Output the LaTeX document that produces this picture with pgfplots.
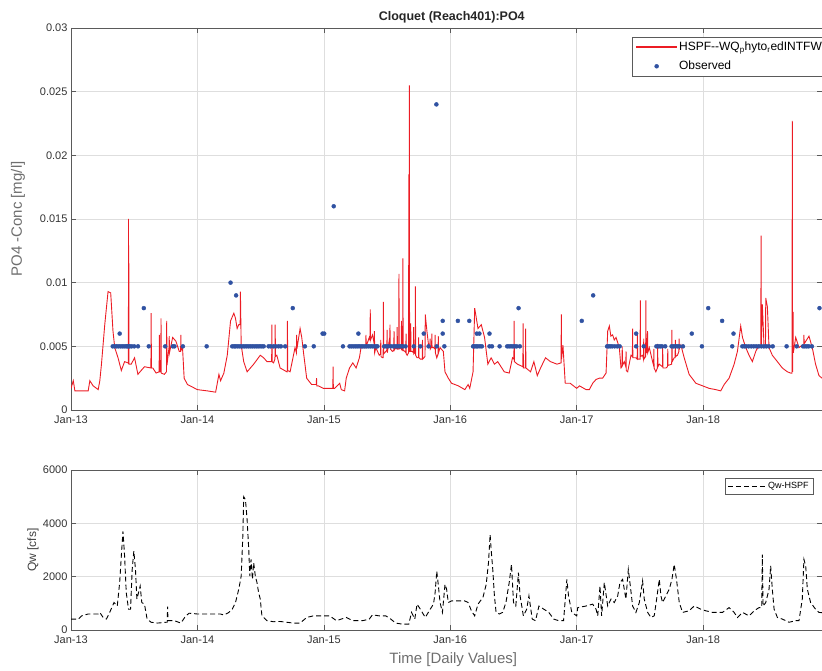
\documentclass[border=0pt]{standalone}
\usepackage{fontspec}
\setmainfont{Liberation Sans}
\usepackage{pgfplots}
\pgfplotsset{compat=1.18}

\definecolor{simred}{RGB}{236,28,36}
\definecolor{obsblue}{RGB}{48,82,162}
\definecolor{gridgray}{RGB}{222,222,222}
\definecolor{framegray}{RGB}{90,90,90}
\definecolor{labgray}{RGB}{110,110,110}

\pgfplotsset{
  /pgf/number format/assume math mode=true,
  /pgf/number format/1000 sep={},
  matlab/.style={
    scale only axis,
    width=751pt,
    xmin=0, xmax=5.94,
    xtick={0,1,2,3,4,5},
    xticklabels={Jan-13,Jan-14,Jan-15,Jan-16,Jan-17,Jan-18},
    scaled y ticks=false,
    grid=major,
    major grid style={gridgray, line width=0.6pt},
    axis line style={framegray, line width=0.7pt},
    tick style={framegray, line width=0.7pt},
    tick align=inside,
    major tick length=5pt,
    tick label style={font=\fontsize{11}{13}\selectfont, text=black!80},
    xticklabel style={yshift=-2pt},
    legend cell align=left,
  },
}

\begin{document}
\begin{tikzpicture}

\begin{axis}[matlab,
  at={(71pt,-410pt)}, anchor=south west,
  height=382pt,
  ymin=0, ymax=0.03,
  ytick={0,0.005,0.01,0.015,0.02,0.025,0.03},
  yticklabels={0,0.005,0.01,0.015,0.02,0.025,0.03},
  title={Cloquet (Reach401):PO4},
  title style={at={(0.507,1.031)}, anchor=center, yshift=-7pt, font=\bfseries\fontsize{12.5}{14}\selectfont, text=black!85},
  ylabel={PO4 -Conc [mg/l]},
  ylabel style={at={(-0.0706,0.5)}, anchor=center, font=\fontsize{15}{17}\selectfont, text=labgray},
  legend style={at={(0.747,0.977)}, anchor=north west, draw=framegray, fill=white,
    font=\fontsize{12}{14}\selectfont, row sep=5pt, inner xsep=4pt, inner ysep=3pt},
]
\addplot[color=simred, line width=0.9pt,
  legend image code/.code={\fill[fill=simred] (0pt,-0.5pt) rectangle (40pt,0.5pt);}]
coordinates {
(0,0.0017)(0.018,0.0023)(0.031,0.0015)(0.084,0.0015)(0.136,0.0015)(0.149,0.0023)(0.175,0.0019)(0.215,0.0016)(0.228,0.0023)(0.241,0.0036)(0.267,0.0067)(0.293,0.0093)(0.314,0.0092)(0.332,0.0062)(0.346,0.0049)(0.372,0.0041)(0.398,0.0031)(0.424,0.0038)(0.450,0.0037)(0.454,0.0037)(0.455,0.0150)(0.456,0.0036)(0.457,0.0122)(0.459,0.0036)(0.476,0.0036)(0.503,0.0041)(0.529,0.0028)(0.581,0.0034)(0.632,0.0033)(0.634,0.0076)(0.636,0.0033)(0.647,0.0033)(0.673,0.0029)(0.697,0.0030)(0.699,0.0059)(0.701,0.0030)(0.710,0.0030)(0.712,0.0072)(0.714,0.0029)(0.738,0.0028)(0.755,0.0030)(0.757,0.0070)(0.759,0.0035)(0.775,0.0049)(0.777,0.0058)(0.779,0.0045)(0.804,0.0057)(0.830,0.0054)(0.856,0.0046)(0.867,0.0046)(0.869,0.0059)(0.871,0.0047)(0.882,0.0049)(0.895,0.0025)(0.921,0.0020)(1.0,0.0016)
(1.079,0.0015)(1.144,0.0014)(1.170,0.0028)(1.183,0.0023)(1.209,0.0029)(1.236,0.0043)(1.262,0.0070)(1.288,0.0076)(1.301,0.0072)(1.314,0.0064)(1.327,0.0067)(1.338,0.0067)(1.340,0.0093)(1.346,0.0051)(1.366,0.0038)(1.393,0.0030)(1.445,0.0036)(1.497,0.0043)(1.524,0.0041)(1.550,0.0038)(1.587,0.0038)(1.589,0.0067)(1.591,0.0038)(1.602,0.0037)(1.613,0.0040)(1.615,0.0067)(1.617,0.0042)(1.628,0.0043)(1.654,0.0033)(1.707,0.0030)(1.710,0.0030)(1.712,0.0070)(1.714,0.0031)(1.733,0.0030)(1.772,0.0049)(1.783,0.0045)(1.785,0.0059)(1.787,0.0048)(1.812,0.0064)(1.825,0.0057)(1.838,0.0046)(1.864,0.0025)(1.903,0.0020)(1.940,0.0020)(1.942,0.0025)(1.944,0.0019)(1.955,0.0019)(1.995,0.0017)
(2.047,0.0017)(2.071,0.0017)(2.073,0.0034)(2.075,0.0017)(2.086,0.0017)(2.125,0.0021)(2.138,0.0016)(2.164,0.0015)(2.177,0.0025)(2.203,0.0033)(2.229,0.0037)(2.255,0.0033)(2.281,0.0041)(2.294,0.0049)(2.320,0.0049)(2.331,0.0049)(2.333,0.0059)(2.335,0.0050)(2.359,0.0057)(2.365,0.0055)(2.367,0.0079)(2.369,0.0055)(2.385,0.0059)(2.398,0.0052)(2.400,0.0062)(2.402,0.0045)(2.411,0.0049)(2.438,0.0043)(2.448,0.0044)(2.450,0.0055)(2.452,0.0042)(2.464,0.0041)(2.469,0.0041)(2.471,0.0085)(2.473,0.0044)(2.490,0.0046)(2.498,0.0047)(2.500,0.0063)(2.502,0.0045)(2.516,0.0054)(2.521,0.0050)(2.523,0.0067)(2.525,0.0048)(2.542,0.0046)(2.553,0.0047)(2.555,0.0062)(2.557,0.0047)(2.568,0.0049)(2.578,0.0048)(2.580,0.0065)(2.582,0.0048)(2.592,0.0048)(2.594,0.0107)(2.596,0.0048)(2.607,0.0049)(2.612,0.0048)(2.614,0.0070)(2.616,0.0048)(2.623,0.0047)(2.625,0.0119)(2.627,0.0047)(2.641,0.0046)(2.648,0.0045)(2.650,0.0060)(2.652,0.0044)(2.659,0.0043)(2.670,0.0045)(2.672,0.0185)(2.674,0.0046)(2.676,0.0255)(2.678,0.0046)(2.685,0.0046)(2.687,0.0068)(2.689,0.0046)(2.698,0.0046)(2.708,0.0045)(2.710,0.0065)(2.712,0.0044)(2.722,0.0045)(2.724,0.0097)(2.726,0.0043)(2.737,0.0041)(2.748,0.0041)(2.750,0.0057)(2.752,0.0041)(2.763,0.0040)(2.778,0.0040)(2.780,0.0055)(2.782,0.0040)(2.800,0.0042)(2.802,0.0075)(2.815,0.0062)(2.828,0.0051)(2.838,0.0049)(2.840,0.0056)(2.842,0.0048)(2.852,0.0050)(2.854,0.0060)(2.856,0.0049)(2.867,0.0049)(2.878,0.0048)(2.880,0.0059)(2.882,0.0045)(2.893,0.0041)(2.903,0.0044)(2.905,0.0058)(2.907,0.0045)(2.919,0.0049)(2.945,0.0046)(2.958,0.0030)(2.984,0.0025)
(3.010,0.0021)(3.063,0.0019)(3.115,0.0016)(3.141,0.0020)(3.154,0.0017)(3.180,0.0030)(3.193,0.0080)(3.219,0.0064)(3.245,0.0067)(3.271,0.0057)(3.297,0.0036)(3.323,0.0041)(3.349,0.0036)(3.375,0.0038)(3.401,0.0034)(3.427,0.0030)(3.466,0.0029)(3.492,0.0041)(3.503,0.0040)(3.505,0.0070)(3.507,0.0038)(3.531,0.0036)(3.574,0.0034)(3.576,0.0068)(3.578,0.0033)(3.583,0.0033)(3.594,0.0033)(3.596,0.0064)(3.598,0.0033)(3.635,0.0030)(3.661,0.0038)(3.688,0.0027)(3.714,0.0033)(3.753,0.0041)(3.792,0.0038)(3.844,0.0036)(3.876,0.0037)(3.878,0.0075)(3.880,0.0040)(3.891,0.0051)(3.909,0.0021)(3.948,0.0021)(4.0,0.0017)
(4.021,0.0019)(4.074,0.0016)(4.100,0.0016)(4.126,0.0021)(4.153,0.0024)(4.179,0.0025)(4.205,0.0025)(4.232,0.0029)(4.245,0.0062)(4.258,0.0066)(4.270,0.0058)(4.284,0.0059)(4.297,0.0055)(4.311,0.0057)(4.337,0.0049)(4.350,0.0033)(4.358,0.0034)(4.360,0.0050)(4.362,0.0035)(4.376,0.0038)(4.388,0.0034)(4.390,0.0046)(4.392,0.0031)(4.403,0.0030)(4.429,0.0043)(4.440,0.0042)(4.442,0.0064)(4.444,0.0041)(4.468,0.0041)(4.478,0.0040)(4.480,0.0060)(4.482,0.0040)(4.501,0.0040)(4.503,0.0086)(4.505,0.0042)(4.521,0.0043)(4.528,0.0040)(4.530,0.0056)(4.532,0.0040)(4.545,0.0042)(4.547,0.0086)(4.549,0.0045)(4.558,0.0045)(4.560,0.0062)(4.562,0.0045)(4.574,0.0049)(4.600,0.0038)(4.608,0.0035)(4.610,0.0048)(4.612,0.0033)(4.626,0.0030)(4.638,0.0033)(4.640,0.0052)(4.642,0.0034)(4.653,0.0036)(4.678,0.0034)(4.680,0.0050)(4.682,0.0033)(4.705,0.0033)(4.718,0.0034)(4.720,0.0048)(4.722,0.0035)(4.751,0.0036)(4.753,0.0063)(4.755,0.0038)(4.771,0.0041)(4.778,0.0041)(4.780,0.0055)(4.782,0.0042)(4.797,0.0043)(4.808,0.0046)(4.810,0.0056)(4.812,0.0048)(4.824,0.0051)(4.850,0.0041)(4.889,0.0028)(4.942,0.0021)(4.995,0.0019)
(5.047,0.0017)(5.100,0.0016)(5.139,0.0015)(5.166,0.0020)(5.205,0.0025)(5.245,0.0036)(5.271,0.0046)(5.297,0.0066)(5.311,0.0057)(5.337,0.0049)(5.363,0.0043)(5.389,0.0038)(5.416,0.0046)(5.442,0.0051)(5.456,0.0050)(5.458,0.0137)(5.460,0.0050)(5.468,0.0083)(5.482,0.0049)(5.493,0.0049)(5.495,0.0088)(5.508,0.0081)(5.521,0.0049)(5.547,0.0043)(5.587,0.0038)(5.626,0.0033)(5.666,0.0030)(5.692,0.0029)(5.703,0.0029)(5.705,0.0227)(5.707,0.0030)(5.711,0.0077)(5.713,0.0045)(5.732,0.0057)(5.758,0.0049)(5.784,0.0051)(5.795,0.0050)(5.797,0.0059)(5.799,0.0052)(5.837,0.0058)(5.863,0.0049)(5.889,0.0036)(5.916,0.0027)(5.94,0.0025)
};
\addlegendentry{HSPF-{}-WQ\textsubscript{p}hyto\textsubscript{r}edINTFW}

\addplot[only marks, mark=*, mark size=2pt, color=obsblue,
  legend image code/.code={\fill[fill=obsblue] (20pt,0pt) circle (2pt);}]
coordinates {
(0.330,0.005)(0.345,0.005)(0.360,0.005)(0.375,0.005)(0.385,0.006)(0.390,0.005)(0.405,0.005)(0.420,0.005)(0.435,0.005)(0.445,0.005)(0.455,0.005)(0.465,0.005)(0.480,0.005)(0.500,0.005)(0.530,0.005)(0.576,0.008)(0.615,0.005)(0.745,0.005)(0.805,0.005)(0.818,0.005)(0.885,0.005)
(1.073,0.005)(1.262,0.010)(1.306,0.009)(1.275,0.005)(1.290,0.005)(1.300,0.005)(1.315,0.005)(1.330,0.005)(1.345,0.005)(1.360,0.005)(1.375,0.005)(1.390,0.005)(1.405,0.005)(1.420,0.005)(1.435,0.005)(1.450,0.005)(1.465,0.005)(1.480,0.005)(1.495,0.005)(1.510,0.005)(1.524,0.005)(1.563,0.005)(1.580,0.005)(1.602,0.005)(1.620,0.005)(1.641,0.005)(1.660,0.005)(1.694,0.005)(1.754,0.008)(1.850,0.005)(1.920,0.005)(1.990,0.006)(2.003,0.006)
(2.078,0.016)(2.151,0.005)(2.203,0.005)(2.218,0.005)(2.233,0.005)(2.248,0.005)(2.263,0.005)(2.273,0.006)(2.278,0.005)(2.293,0.005)(2.308,0.005)(2.323,0.005)(2.338,0.005)(2.353,0.005)(2.368,0.005)(2.383,0.005)(2.398,0.005)(2.413,0.005)(2.424,0.005)(2.477,0.005)(2.492,0.005)(2.507,0.005)(2.530,0.005)(2.550,0.005)(2.565,0.005)(2.580,0.005)(2.595,0.005)(2.610,0.005)(2.625,0.005)(2.646,0.005)(2.711,0.005)(2.763,0.005)(2.790,0.006)(2.828,0.005)(2.890,0.024)(2.893,0.005)(2.940,0.006)(2.940,0.007)(2.953,0.005)
(3.060,0.007)(3.150,0.007)(3.180,0.005)(3.192,0.005)(3.210,0.006)(3.205,0.005)(3.218,0.005)(3.230,0.006)(3.235,0.005)(3.250,0.005)(3.310,0.006)(3.310,0.005)(3.330,0.005)(3.390,0.005)(3.450,0.005)(3.465,0.005)(3.480,0.005)(3.495,0.005)(3.510,0.005)(3.525,0.005)(3.540,0.008)(3.550,0.005)
(4.040,0.007)(4.130,0.009)(4.240,0.005)(4.252,0.005)(4.265,0.005)(4.280,0.005)(4.300,0.005)(4.320,0.005)(4.340,0.005)(4.470,0.006)(4.470,0.005)(4.530,0.005)(4.630,0.005)(4.645,0.005)(4.660,0.005)(4.675,0.005)(4.700,0.005)(4.750,0.005)(4.765,0.005)(4.780,0.005)(4.795,0.005)(4.810,0.005)(4.840,0.005)(4.910,0.006)(4.990,0.005)
(5.040,0.008)(5.150,0.007)(5.230,0.005)(5.240,0.006)(5.310,0.005)(5.325,0.005)(5.340,0.005)(5.360,0.005)(5.380,0.005)(5.400,0.005)(5.420,0.005)(5.440,0.005)(5.460,0.005)(5.480,0.005)(5.500,0.005)(5.520,0.005)(5.550,0.005)(5.660,0.005)(5.740,0.005)(5.790,0.005)(5.805,0.005)(5.820,0.005)(5.835,0.005)(5.860,0.005)(5.920,0.008)
};
\addlegendentry{Observed}
\end{axis}

\begin{axis}[matlab,
  at={(71pt,-630pt)}, anchor=south west,
  height=160pt,
  ymin=0, ymax=6000,
  ytick={0,2000,4000,6000},
  yticklabels={0,2000,4000,6000},
  xlabel={Time [Daily Values]},
  xlabel style={at={(0.509,-0.1875)}, anchor=center, font=\fontsize{15}{17}\selectfont, text=labgray},
  ylabel={Qw [cfs]},
  ylabel style={at={(-0.0506,0.5)}, anchor=center, font=\fontsize{12}{14}\selectfont, text=black!75},
  legend style={at={(0.871,0.95)}, anchor=north west, draw=framegray, fill=white,
    font=\fontsize{9}{11}\selectfont, inner sep=2pt},
  legend image code/.code={\draw[#1] (0pt,0pt) -- (38pt,0pt);},
]
\addplot[black, dash pattern=on 5pt off 3pt, line width=0.9pt]
coordinates {
(0,410)(0.058,410)(0.084,530)(0.136,600)(0.215,600)(0.228,660)(0.254,470)(0.280,410)(0.306,660)(0.340,1030)(0.366,900)(0.385,1780)(0.398,2770)(0.411,3700)(0.424,2770)(0.437,1400)(0.455,780)(0.471,780)(0.484,2270)(0.497,2960)(0.510,2270)(0.521,1160)(0.534,1400)(0.547,1650)(0.560,1030)(0.581,970)(0.602,410)(0.634,290)(0.686,260)(0.751,290)(0.761,290)(0.764,880)(0.767,350)(0.817,350)(0.869,260)(0.908,530)(0.935,630)(1.000,600)
(1.105,600)(1.183,600)(1.209,560)(1.249,660)(1.275,780)(1.301,1030)(1.327,1530)(1.346,2020)(1.359,3510)(1.366,5000)(1.380,4880)(1.393,4130)(1.406,3020)(1.414,2020)(1.424,2650)(1.435,1900)(1.445,2520)(1.458,2020)(1.471,1780)(1.484,1400)(1.497,1160)(1.510,530)(1.550,350)(1.602,310)(1.654,320)(1.707,290)(1.759,260)(1.812,260)(1.864,470)(1.916,530)(1.995,530)
(2.047,530)(2.099,350)(2.177,470)(2.229,350)(2.307,350)(2.359,410)(2.385,570)(2.438,530)(2.490,530)(2.529,410)(2.568,260)(2.620,220)(2.672,220)(2.693,660)(2.719,410)(2.737,970)(2.763,780)(2.802,470)(2.841,780)(2.867,970)(2.880,1400)(2.893,2210)(2.906,1650)(2.919,1030)(2.938,660)(2.958,1710)(2.971,1530)(2.984,1030)
(3.010,1090)(3.115,1090)(3.141,1030)(3.167,720)(3.193,530)(3.219,970)(3.258,1220)(3.284,1710)(3.302,2520)(3.315,3580)(3.323,3020)(3.336,2270)(3.349,1280)(3.362,660)(3.388,600)(3.414,660)(3.440,1030)(3.466,1780)(3.484,2460)(3.500,1030)(3.518,900)(3.539,2150)(3.552,1280)(3.578,530)(3.604,780)(3.622,1280)(3.648,410)(3.674,350)(3.701,900)(3.740,780)(3.779,660)(3.818,410)(3.857,350)(3.896,350)(3.922,1900)(3.935,1280)(3.961,660)(4.000,530)
(4.008,840)(4.074,900)(4.126,970)(4.153,780)(4.166,530)(4.184,1650)(4.197,530)(4.218,1780)(4.245,900)(4.271,1160)(4.297,1030)(4.324,1280)(4.342,1780)(4.363,1900)(4.389,1160)(4.408,2270)(4.424,1650)(4.442,900)(4.468,660)(4.495,1030)(4.521,1840)(4.534,1160)(4.561,660)(4.587,470)(4.613,530)(4.632,1160)(4.653,1900)(4.666,1280)(4.679,1030)(4.705,1280)(4.732,1530)(4.753,1900)(4.771,2460)(4.789,1900)(4.811,1030)(4.837,660)(4.889,720)(4.929,900)(4.982,780)
(5.021,720)(5.074,660)(5.153,660)(5.205,840)(5.245,660)(5.271,470)(5.311,660)(5.363,530)(5.403,720)(5.442,840)(5.463,840)(5.468,2830)(5.474,900)(5.495,1030)(5.521,1530)(5.534,2400)(5.547,1530)(5.561,780)(5.587,470)(5.626,410)(5.679,290)(5.732,350)(5.758,350)(5.784,1160)(5.797,2650)(5.811,2400)(5.824,1530)(5.850,1030)(5.889,780)(5.916,660)(5.94,650)
};
\addlegendentry{Qw-HSPF}
\end{axis}

\pgfresetboundingbox
\path[use as bounding box] (0pt,0pt) rectangle (822pt,-671pt);
\end{tikzpicture}
\end{document}
